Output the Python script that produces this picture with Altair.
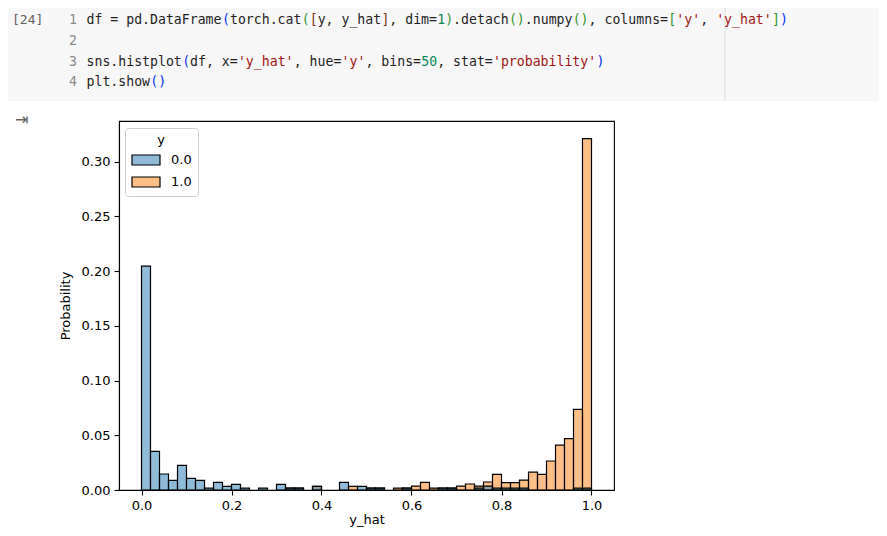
import altair as alt
import pandas as pd

# ---------------- data ----------------
n_bins = 50
hue_levels = ["0.0", "1.0"]
hue_colors = ["#1f77b4", "#ff7f0e"]
hue_colors_legend = ["#8fbbd9", "#ffbf86"]   # the same colours at 50 % on white

prob_y0 = [0.2044, 0.0353, 0.0146, 0.0088, 0.0225, 0.0106, 0.0088, 0.0018, 0.0070, 0.0034,
           0.0052, 0.0018, 0.0, 0.0018, 0.0, 0.0052, 0.0018, 0.0018, 0.0, 0.0034,
           0.0, 0.0, 0.0070, 0.0, 0.0034, 0.0018, 0.0018, 0.0, 0.0, 0.0018,
           0.0, 0.0, 0.0, 0.0018, 0.0018, 0.0, 0.0, 0.0018, 0.0036, 0.0018,
           0.0018, 0.0018, 0.0018, 0.0, 0.0, 0.0, 0.0, 0.0, 0.0018, 0.0018]
prob_y1 = [0.0, 0.0, 0.0, 0.0, 0.0, 0.0, 0.0, 0.0, 0.0, 0.0,
           0.0, 0.0, 0.0, 0.0, 0.0, 0.0, 0.0018, 0.0018, 0.0, 0.0034,
           0.0, 0.0, 0.0, 0.0034, 0.0, 0.0018, 0.0018, 0.0, 0.0018, 0.0018,
           0.0036, 0.0070, 0.0018, 0.0018, 0.0018, 0.0036, 0.0055, 0.0036, 0.0073, 0.0143,
           0.0067, 0.0067, 0.0091, 0.0164, 0.0143, 0.0265, 0.0410, 0.0470, 0.0736, 0.3209]

x_ticks = [0.0, 0.2, 0.4, 0.6, 0.8, 1.0]
y_ticks = [0.0, 0.05, 0.10, 0.15, 0.20, 0.25, 0.30]

# code cell text (line, column, text, kind)
code_segments = [
    (1, 0, "df = pd.DataFrame", "k"), (1, 17, "(", "b1"), (1, 18, "torch.cat", "k"),
    (1, 27, "(", "b2"), (1, 28, "[", "b3"), (1, 29, "y, y_hat", "k"), (1, 37, "]", "b3"),
    (1, 38, ", dim=", "k"), (1, 44, "1", "num"), (1, 45, ")", "b2"), (1, 46, ".detach", "k"),
    (1, 53, "()", "b2"), (1, 55, ".numpy", "k"), (1, 61, "()", "b2"), (1, 63, ", columns=", "k"),
    (1, 73, "[", "b2"), (1, 74, "'y'", "str"), (1, 77, ", ", "k"), (1, 79, "'y_hat'", "str"),
    (1, 86, "]", "b2"), (1, 87, ")", "b1"),
    (3, 0, "sns.histplot", "k"), (3, 12, "(", "b1"), (3, 13, "df, x=", "k"),
    (3, 19, "'y_hat'", "str"), (3, 26, ", hue=", "k"), (3, 32, "'y'", "str"),
    (3, 35, ", bins=", "k"), (3, 42, "50", "num"), (3, 44, ", stat=", "k"),
    (3, 51, "'probability'", "str"), (3, 64, ")", "b1"),
    (4, 0, "plt.show", "k"), (4, 8, "()", "b1"),
]
line_numbers = ["1", "2", "3", "4"]
cell_label = "[24]"

# ---------------- build tables ----------------
rows = []
for order, (label, probs) in enumerate([("1.0", prob_y1), ("0.0", prob_y0)]):
    for k, p in enumerate(probs):
        if p > 0:
            rows.append({"y": label, "start": k / n_bins, "end": (k + 1) / n_bins,
                         "prob": p, "base": 0.0, "order": order})
hist_df = pd.DataFrame(rows)

kind_color = {"k": "#1f1f1f", "b1": "#0431fa", "b2": "#319331", "b3": "#7b3814",
              "num": "#098658", "str": "#a31515"}
# page -> plot-area coordinates
OX, OY = 119, 121
char_w = 7.97
code_x0 = 86.5 - OX
line_y = {1: 20 - OY, 2: 41 - OY, 3: 62 - OY, 4: 82 - OY}

code_df = pd.DataFrame([
    {"px": code_x0 + col * char_w, "py": line_y[ln], "text": txt, "col": kind_color[kind]}
    for ln, col, txt, kind in code_segments
])
ln_df = pd.DataFrame([{"px": 77 - OX, "py": line_y[i + 1], "text": t}
                      for i, t in enumerate(line_numbers)])

# ---------------- chart ----------------
one = alt.Data(values=[{"a": 1}])
bg = alt.Chart(one).mark_rect(color="#f7f7f7").encode(
    x=alt.value(-111), x2=alt.value(760), y=alt.value(-113), y2=alt.value(-20)
)
ruler = alt.Chart(one).mark_rule(color="#dedede", strokeWidth=1).encode(
    x=alt.value(606), y=alt.value(-113), y2=alt.value(-20)
)
code = alt.Chart(code_df).mark_text(
    font="DejaVu Sans Mono", fontSize=13.2, align="left", baseline="middle"
).encode(
    x=alt.X("px:Q", scale=None, axis=None),
    y=alt.Y("py:Q", scale=None, axis=None),
    text="text:N",
    color=alt.Color("col:N", scale=None),
)
lnums = alt.Chart(ln_df).mark_text(
    font="DejaVu Sans Mono", fontSize=13.2, align="right", baseline="middle", color="#8a8a8a"
).encode(
    x=alt.X("px:Q", scale=None, axis=None),
    y=alt.Y("py:Q", scale=None, axis=None),
    text="text:N",
)
cell = alt.Chart(alt.Data(values=[{"t": cell_label}])).mark_text(
    font="DejaVu Sans Mono", fontSize=13, align="left", baseline="middle", color="#616161"
).encode(x=alt.value(12 - OX), y=alt.value(20 - OY), text="t:N")
icon = alt.Chart(alt.Data(values=[{"t": "⇥"}])).mark_text(
    font="DejaVu Sans", fontSize=16, align="center", baseline="middle", color="#616161"
).encode(x=alt.value(22 - OX), y=alt.value(120 - OY), text="t:N")

bars = alt.Chart(hist_df).mark_bar(
    stroke="black", strokeWidth=1.2, fillOpacity=0.5
).encode(
    x=alt.X("start:Q",
            scale=alt.Scale(domain=[-0.05, 1.05], nice=False, zero=False),
            axis=alt.Axis(values=x_ticks, format=".1f", title="y_hat")),
    x2="end:Q",
    y=alt.Y("prob:Q", stack=None,
            scale=alt.Scale(domain=[0, 0.337], nice=False),
            axis=alt.Axis(values=y_ticks, format=".2f", title="Probability")),
    y2="base:Q",
    # data-driven domain (sorts to 0.0, 1.0) so this scale stays separate from the legend's
    color=alt.Color("y:N", scale=alt.Scale(range=hue_colors), legend=None),
    order=alt.Order("order:Q"),
)

# zero-size marks that only carry the legend (hue colours as seen at 50 % alpha)
legend_df = pd.DataFrame({"hue": hue_levels})
legend_carrier = alt.Chart(legend_df).mark_rect(strokeWidth=0).encode(
    x=alt.value(0), x2=alt.value(0), y=alt.value(0), y2=alt.value(0),
    fill=alt.Fill("hue:N", scale=alt.Scale(domain=hue_levels, range=hue_colors_legend),
                  legend=alt.Legend(
                      title="y", orient="none", legendX=6, legendY=7,
                      titleAnchor="middle", titleFontSize=13, titleFontWeight="normal",
                      labelFontSize=13, padding=6, strokeColor="#cccccc",
                      cornerRadius=3, fillColor="white",
                      symbolType="M-1,-0.714L3,-0.714L3,0.714L-1,0.714Z", symbolSize=196,
                      symbolStrokeColor="black", symbolStrokeWidth=1.2,
                      labelOffset=24, rowPadding=6)),
)

chart = alt.layer(bg, ruler, code, lnums, cell, icon, bars, legend_carrier).properties(
    width=495, height=369,
    autosize=alt.AutoSizeParams(type="none"),
    padding={"left": 111, "top": 113, "right": 265, "bottom": 38},
    background="white",
).configure_view(stroke="black", strokeWidth=1.1).configure_axis(
    grid=False, domainColor="black", tickColor="black", labelColor="black",
    titleColor="black", labelFont="DejaVu Sans", titleFont="DejaVu Sans",
    labelFontSize=13, titleFontSize=13, titleFontWeight="normal",
    tickSize=5, labelPadding=4, domainWidth=1.1, tickWidth=1.1,
).configure_axisY(titlePadding=9).configure_axisX(titlePadding=1).configure_legend(
    labelFont="DejaVu Sans", titleFont="DejaVu Sans", labelColor="black", titleColor="black"
)

chart.save("out.html", embed_options={"renderer": "svg", "actions": False})
